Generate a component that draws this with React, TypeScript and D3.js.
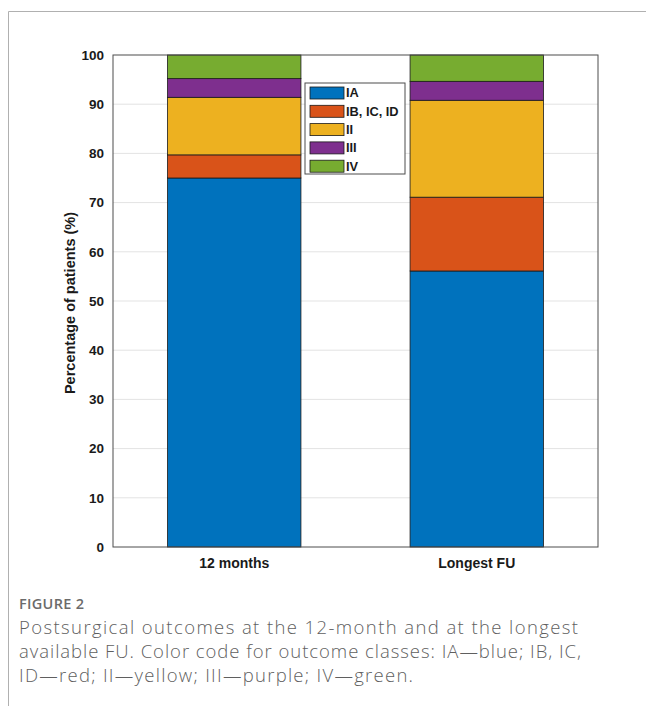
import React, { useEffect } from "react";
import * as d3 from "d3";

const categories = ["12 months", "Longest FU"];
const classes = ["IA", "IB, IC, ID", "II", "III", "IV"];
const IA = [75.0, 56.1];
const IBCD = [4.7, 15.0];
const II = [11.7, 19.7];
const III = [3.8, 3.85];
const IV = [4.8, 5.35];
const yTicks = [0, 10, 20, 30, 40, 50, 60, 70, 80, 90, 100];
const colors = ["#0072BD", "#D95319", "#EDB120", "#7E2F8E", "#77AC30"];
const captionTitle = "FIGURE 2";
const captionLines = [
  "Postsurgical outcomes at the 12-month and at the longest",
  "available FU. Color code for outcome classes: IA\u2014blue; IB, IC,",
  "ID\u2014red; II\u2014yellow; III\u2014purple; IV\u2014green.",
];
const captionWidths = [559, 562, 394];

const W = 646;
const H = 706;
const plot = { left: 113, right: 598, top: 55, bottom: 547 };

export default function App() {
  useEffect(() => {
    document.body.style.margin = "0";
  }, []);

  const series = [IA, IBCD, II, III, IV];
  const rows = categories.map((c, i) => {
    const r: any = { cat: c, idx: i + 1 };
    classes.forEach((k, j) => (r[k] = series[j][i]));
    return r;
  });
  const stacked = d3.stack<any>().keys(classes)(rows);

  const x = d3.scaleLinear().domain([0.5, 2.5]).range([plot.left, plot.right]);
  const y = d3.scaleLinear().domain([0, 100]).range([plot.bottom, plot.top]);
  const barW = x(1.55) - x(1);

  const font = "'Liberation Sans', Arial, sans-serif";
  const lg = { x: 305, y: 83, w: 100, h: 91 };
  const rowH = 18.3;

  return (
    <svg width={W} height={H} style={{ display: "block", background: "#fff" }}>
      {/* figure frame */}
      <line x1={8.5} y1={11.5} x2={W} y2={11.5} stroke="#b0b0b0" strokeWidth={1} />
      <line x1={8.5} y1={11.5} x2={8.5} y2={H} stroke="#b0b0b0" strokeWidth={1} />

      {/* grid */}
      {yTicks.slice(1, -1).map((t) => (
        <line key={"g" + t} x1={plot.left} x2={plot.right} y1={y(t)} y2={y(t)} stroke="#e3e3e3" strokeWidth={1} />
      ))}

      {/* bars */}
      {stacked.map((s, j) => (
        <g key={s.key}>
          {s.map((d: any, i: number) => (
            <rect
              key={i}
              x={x(d.data.idx) - barW / 2}
              width={barW}
              y={y(d[1])}
              height={y(d[0]) - y(d[1])}
              fill={colors[j]}
              stroke="#1a1a1a"
              strokeWidth={0.8}
            />
          ))}
        </g>
      ))}

      {/* axes box */}
      <rect x={plot.left} y={plot.top} width={plot.right - plot.left} height={plot.bottom - plot.top} fill="none" stroke="#4d4d4d" strokeWidth={1} />
      {yTicks.map((t) => (
        <text key={"t" + t} x={104} y={y(t)} dy="0.35em" textAnchor="end" fontFamily={font} fontWeight="bold" fontSize={13.5} fill="#1a1a1a">
          {t}
        </text>
      ))}
      {categories.map((c, i) => (
        <text key={c} x={x(i + 1)} y={568} textAnchor="middle" fontFamily={font} fontWeight="bold" fontSize={14} fill="#1a1a1a">
          {c}
        </text>
      ))}
      <text
        transform={`translate(75, ${(plot.top + plot.bottom) / 2 + 2}) rotate(-90)`}
        textAnchor="middle"
        fontFamily={font}
        fontWeight="bold"
        fontSize={14.5}
        fill="#1a1a1a"
      >
        Percentage of patients (%)
      </text>

      {/* legend */}
      <rect x={lg.x} y={lg.y} width={lg.w} height={lg.h} fill="#fff" stroke="#4d4d4d" strokeWidth={1} />
      {classes.map((k, j) => (
        <g key={"l" + k}>
          <rect x={310} y={lg.y + 4 + j * rowH} width={34} height={12} fill={colors[j]} stroke="#1a1a1a" strokeWidth={0.8} />
          <text x={346} y={lg.y + 10 + j * rowH} dy="0.35em" fontFamily={font} fontWeight="bold" fontSize={12.8} fill="#1a1a1a">
            {k}
          </text>
        </g>
      ))}

      {/* caption */}
      <text x={19} y={609} fontFamily="'Open Sans', sans-serif" fontWeight={600} fontSize={14.5} fill="#6b6b6b" letterSpacing={0.3}>
        {captionTitle}
      </text>
      {captionLines.map((l, i) => (
        <text
          key={i}
          x={19}
          y={634 + i * 24}
          fontFamily="'Open Sans', sans-serif"
          fontWeight={300}
          fontSize={18.5}
          fill="#5f5f5f"
          textLength={captionWidths[i]}
          lengthAdjust="spacing"
        >
          {l}
        </text>
      ))}
    </svg>
  );
}
